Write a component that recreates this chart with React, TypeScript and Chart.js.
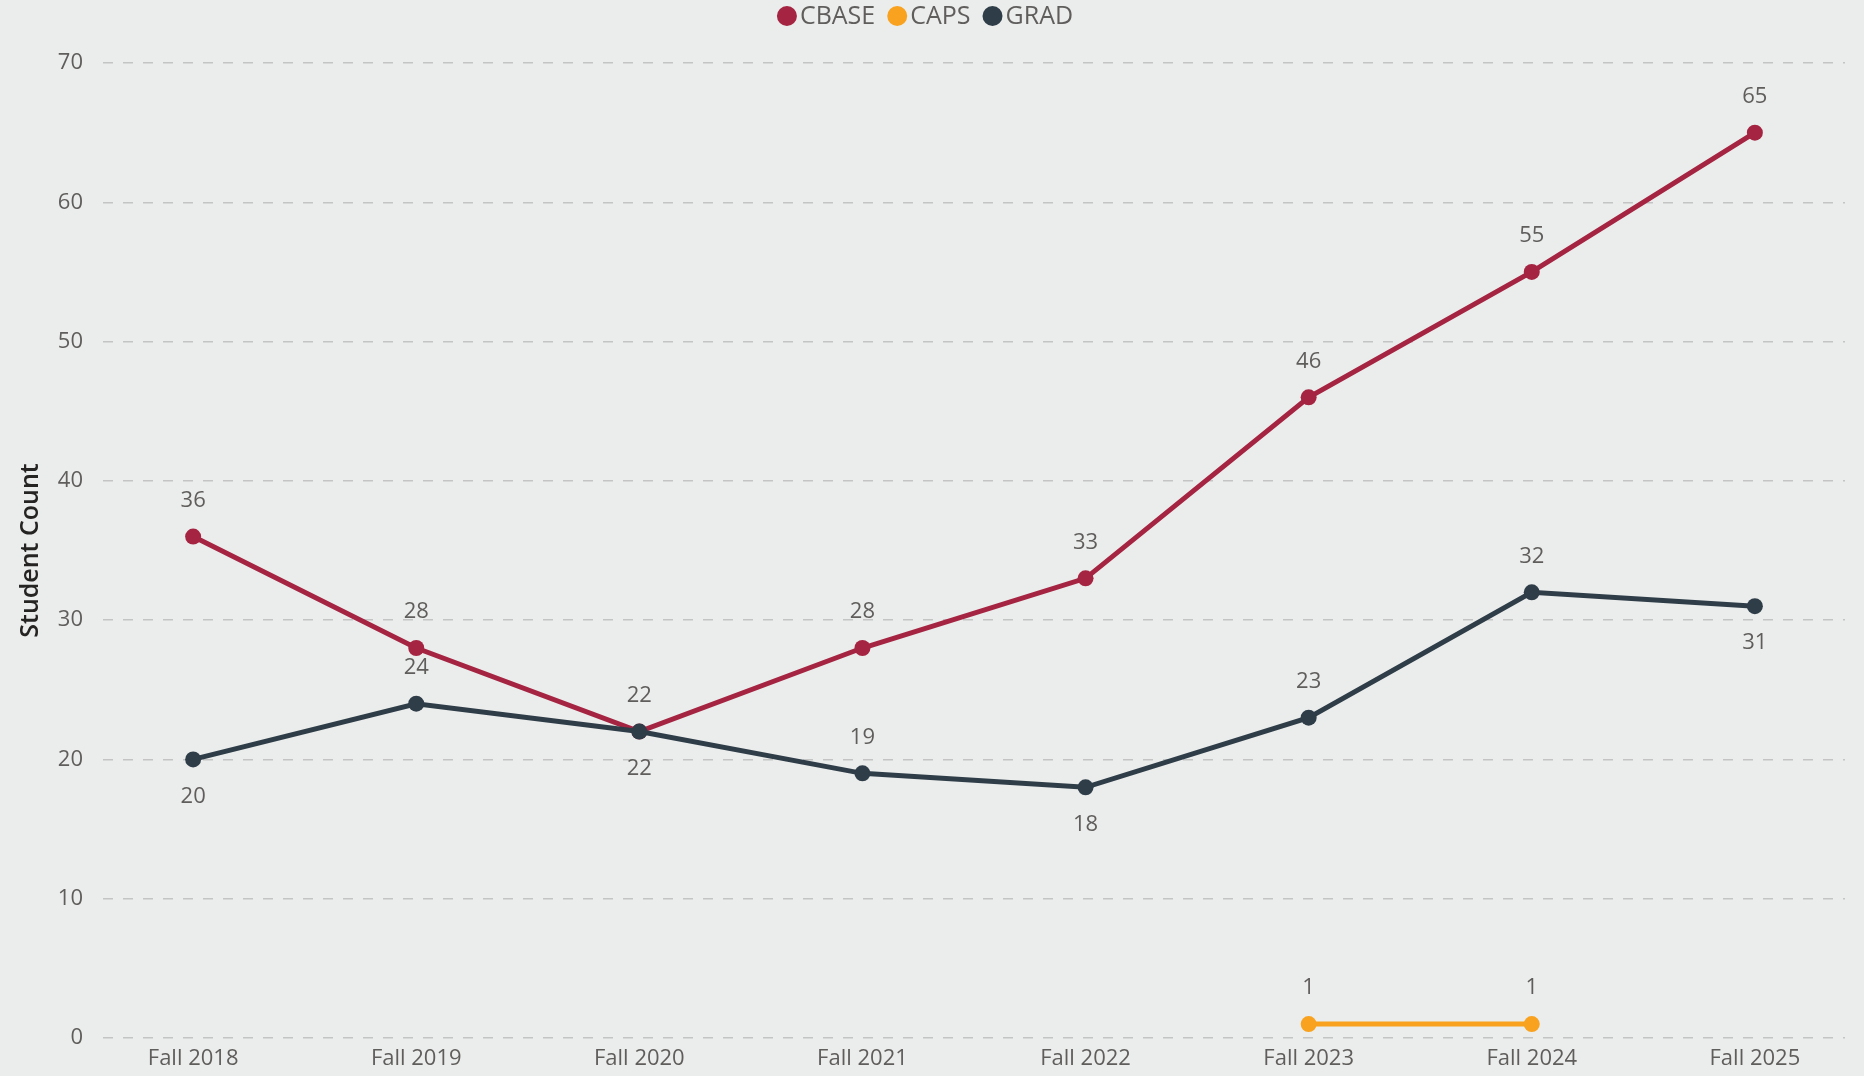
import React, { useEffect, useRef } from "react";
import { Chart, registerables } from "chart.js";

Chart.register(...registerables);

const categories = ["Fall 2018", "Fall 2019", "Fall 2020", "Fall 2021", "Fall 2022", "Fall 2023", "Fall 2024", "Fall 2025"];
const cbaseValues: (number | null)[] = [36, 28, 22, 28, 33, 46, 55, 65];
const capsValues: (number | null)[] = [null, null, null, null, null, 1, 1, null];
const gradValues: (number | null)[] = [20, 24, 22, 19, 18, 23, 32, 31];
const yTicks = [0, 10, 20, 30, 40, 50, 60, 70];

const cbaseLabelSide = ["above", "above", "above", "above", "above", "above", "above", "above"];
const capsLabelSide = ["above", "above", "above", "above", "above", "above", "above", "above"];
const gradLabelSide = ["below", "above", "below", "above", "below", "above", "above", "below"];

const COLORS = { CBASE: "#A52442", CAPS: "#F8A21F", GRAD: "#2F3D48" };
const FONT = "'Open Sans', 'Noto Sans', sans-serif";
const TEXT_GREY = "#605E5C";

const toPoints = (vals: (number | null)[]) => vals.map((v, i) => ({ x: i, y: v }));

export default function App() {
  const ref = useRef<HTMLCanvasElement | null>(null);

  useEffect(() => {
    if (!ref.current) return;
    const sides: Record<string, string[]> = { CBASE: cbaseLabelSide, CAPS: capsLabelSide, GRAD: gradLabelSide };

    const labelPlugin = {
      id: "dataLabelsAndLegend",
      afterDatasetsDraw(chart: any) {
        const ctx = chart.ctx;
        ctx.save();
        ctx.font = `22px ${FONT}`;
        ctx.fillStyle = TEXT_GREY;
        ctx.textAlign = "center";
        ctx.textBaseline = "middle";
        chart.data.datasets.forEach((ds: any, di: number) => {
          const meta = chart.getDatasetMeta(di);
          meta.data.forEach((pt: any, i: number) => {
            const v = ds.data[i].y;
            if (v === null || v === undefined) return;
            const side = sides[ds.label][i];
            const dy = side === "above" ? -36 : 37;
            ctx.fillText(String(v), pt.x, pt.y + dy);
          });
        });
        // legend
        ctx.font = `25px ${FONT}`;
        ctx.textAlign = "left";
        const items = chart.data.datasets.map((d: any) => ({ label: d.label, color: d.borderColor }));
        const r = 10;
        const gapText = 3;
        const gapItem = 12;
        let total = 0;
        items.forEach((it: any, k: number) => {
          total += r * 2 + gapText + ctx.measureText(it.label).width + (k < items.length - 1 ? gapItem : 0);
        });
        let x = 925 - total / 2;
        const cy = 16;
        items.forEach((it: any) => {
          ctx.beginPath();
          ctx.fillStyle = it.color;
          ctx.arc(x + r, cy, r, 0, Math.PI * 2);
          ctx.fill();
          x += r * 2 + gapText;
          ctx.fillStyle = TEXT_GREY;
          ctx.fillText(it.label, x, cy + 1);
          x += ctx.measureText(it.label).width + gapItem;
        });
        ctx.restore();
      },
    };

    const mk = (label: string, vals: (number | null)[], color: string, order: number) => ({
      label,
      data: toPoints(vals),
      borderColor: color,
      backgroundColor: color,
      pointBackgroundColor: color,
      pointBorderColor: color,
      pointBorderWidth: 0,
      pointRadius: 8,
      pointHoverRadius: 8,
      borderWidth: 5,
      tension: 0,
      spanGaps: false,
      order,
    });

    const chart = new Chart(ref.current, {
      type: "line",
      data: {
        datasets: [
          mk("CBASE", cbaseValues, COLORS.CBASE, 2),
          mk("CAPS", capsValues, COLORS.CAPS, 1),
          mk("GRAD", gradValues, COLORS.GRAD, 0),
        ],
      },
      plugins: [labelPlugin],
      options: {
        responsive: false,
        animation: false,
        events: [],
        layout: { padding: { top: 63, right: 19, left: 0, bottom: 0 } },
        plugins: { legend: { display: false }, tooltip: { enabled: false } },
        scales: {
          x: {
            type: "linear",
            min: -0.404,
            max: 7.404,
            afterBuildTicks: (s: any) => {
              s.ticks = categories.map((_, i) => ({ value: i }));
            },
            afterFit: (s: any) => {
              s.height = 38;
            },
            grid: { display: false, drawTicks: false },
            border: { display: false },
            ticks: {
              autoSkip: false,
              maxRotation: 0,
              padding: 8,
              color: TEXT_GREY,
              font: { family: FONT, size: 22 },
              callback: (v: any) => categories[Number(v)] ?? "",
            },
          },
          y: {
            type: "linear",
            min: 0,
            max: 70,
            afterBuildTicks: (s: any) => {
              s.ticks = yTicks.map((v) => ({ value: v }));
            },
            afterFit: (s: any) => {
              s.width = 103;
            },
            grid: { color: "#C4C4C4", lineWidth: 1.5, drawTicks: false },
            border: { display: false, dash: [10, 10] },
            ticks: {
              padding: 20,
              color: TEXT_GREY,
              font: { family: FONT, size: 22 },
            },
            title: {
              display: true,
              text: "Student Count",
              color: "#252423",
              font: { family: FONT, size: 25, weight: "600" },
              padding: { top: 16, bottom: 0 },
            },
          },
        },
      },
    });
    return () => chart.destroy();
  }, []);

  return (
    <div style={{ position: "fixed", left: 0, top: 0, width: 1864, height: 1076, background: "#EBEDEC" }}>
      <canvas ref={ref} width={1864} height={1076} style={{ display: "block" }} />
    </div>
  );
}
